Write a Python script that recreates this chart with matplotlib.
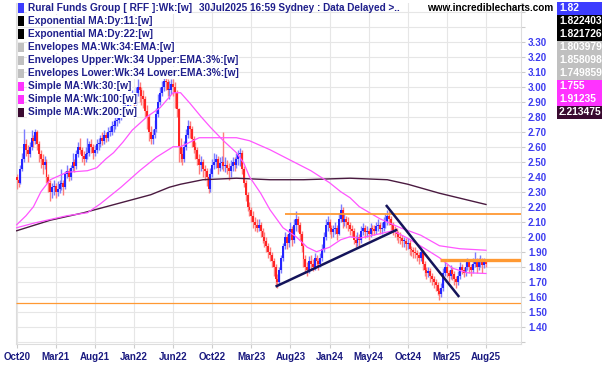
import matplotlib
matplotlib.use('Agg')
import matplotlib.pyplot as plt
from matplotlib.patches import Rectangle

W, H = 602, 365

# weekly candles, index 0 = first week of Oct 2020
first_open = 2.40
closes = [2.38, 2.36, 2.45, 2.52, 2.62, 2.58, 2.55, 2.60, 2.66, 2.64,
          2.70, 2.62, 2.55, 2.52, 2.48, 2.50, 2.40, 2.36, 2.30, 2.33,
          2.34, 2.30, 2.32, 2.35, 2.36, 2.33, 2.42, 2.44, 2.40, 2.46,
          2.50, 2.47, 2.55, 2.60, 2.58, 2.54, 2.52, 2.55, 2.56, 2.62,
          2.60, 2.56, 2.58, 2.62, 2.62, 2.66, 2.64, 2.68, 2.66, 2.70,
          2.70, 2.74, 2.74, 2.77, 2.78, 2.80, 2.82, 2.85, 2.86, 2.84,
          2.90, 2.92, 2.94, 2.90, 2.96, 3.00, 2.98, 2.94, 2.92, 2.84,
          2.80, 2.70, 2.65, 2.68, 2.72, 2.82, 2.90, 2.96, 3.00, 3.04,
          3.03, 2.98, 2.98, 3.02, 3.00, 2.96, 2.85, 2.60, 2.55, 2.52,
          2.60, 2.68, 2.74, 2.72, 2.65, 2.60, 2.58, 2.52, 2.48, 2.50,
          2.45, 2.44, 2.40, 2.32, 2.42, 2.48, 2.50, 2.52, 2.46, 2.49,
          2.50, 2.47, 2.48, 2.46, 2.44, 2.47, 2.50, 2.48, 2.52, 2.55,
          2.56, 2.45, 2.36, 2.28, 2.20, 2.18, 2.14, 2.10, 2.08, 2.06,
          2.08, 2.04, 2.00, 1.97, 1.94, 1.90, 1.88, 1.84, 1.80, 1.72,
          1.70, 1.78, 1.86, 1.94, 2.00, 1.96, 2.02, 2.05, 1.98, 2.08,
          2.12, 2.08, 2.02, 1.94, 1.85, 1.80, 1.78, 1.84, 1.82, 1.80,
          1.86, 1.84, 1.82, 1.86, 1.92, 2.00, 2.08, 2.10, 2.06, 2.03,
          2.05, 2.06, 2.02, 2.12, 2.18, 2.10, 2.12, 2.10, 2.08, 2.05,
          2.04, 1.98, 1.96, 2.00, 1.98, 2.04, 2.06, 2.03, 2.04, 2.02,
          2.06, 2.05, 2.04, 2.07, 2.08, 2.05, 2.06, 2.10, 2.10, 2.14,
          2.12, 2.08, 2.04, 2.03, 2.02, 2.00, 1.99, 1.97, 1.97, 1.95,
          1.96, 1.92, 1.91, 1.90, 1.89, 1.88, 1.86, 1.90, 1.82, 1.78,
          1.76, 1.77, 1.74, 1.72, 1.70, 1.68, 1.64, 1.62, 1.66, 1.76,
          1.80, 1.76, 1.74, 1.78, 1.75, 1.72, 1.70, 1.74, 1.80, 1.78,
          1.76, 1.80, 1.84, 1.80, 1.78, 1.82, 1.84, 1.80, 1.83, 1.85,
          1.81, 1.84, 1.82]
highs = [2.42, 2.40, 2.48, 2.56, 2.72, 2.65, 2.61, 2.63, 2.71, 2.68,
         2.72, 2.71, 2.64, 2.58, 2.55, 2.54, 2.52, 2.42, 2.38, 2.36,
         2.38, 2.36, 2.37, 2.38, 2.45, 2.38, 2.44, 2.48, 2.46, 2.48,
         2.56, 2.52, 2.58, 2.63, 2.66, 2.60, 2.57, 2.60, 2.66, 2.64,
         2.65, 2.62, 2.61, 2.65, 2.66, 2.68, 2.70, 2.71, 2.70, 2.73,
         2.74, 2.77, 2.78, 2.80, 2.81, 2.84, 2.85, 2.88, 2.90, 2.89,
         2.93, 2.95, 2.98, 2.96, 3.00, 3.05, 3.03, 3.00, 2.98, 2.94,
         2.88, 2.82, 2.74, 2.72, 2.78, 2.86, 2.95, 3.00, 3.04, 3.06,
         3.06, 3.05, 3.04, 3.05, 3.05, 3.03, 2.98, 2.86, 2.66, 2.60,
         2.64, 2.72, 2.78, 2.77, 2.74, 2.67, 2.63, 2.60, 2.55, 2.54,
         2.52, 2.48, 2.46, 2.42, 2.46, 2.52, 2.56, 2.55, 2.54, 2.53,
         2.54, 2.70, 2.53, 2.51, 2.49, 2.51, 2.53, 2.53, 2.56, 2.58,
         2.59, 2.58, 2.47, 2.38, 2.30, 2.23, 2.20, 2.17, 2.13, 2.12,
         2.12, 2.10, 2.06, 2.03, 2.00, 1.96, 1.93, 1.90, 1.86, 1.82,
         1.75, 1.80, 1.88, 1.96, 2.03, 2.02, 2.05, 2.10, 2.07, 2.12,
         2.17, 2.14, 2.10, 2.04, 1.96, 1.88, 1.83, 1.87, 1.88, 1.85,
         1.89, 1.88, 1.86, 1.89, 1.95, 2.03, 2.12, 2.14, 2.12, 2.08,
         2.08, 2.10, 2.08, 2.16, 2.22, 2.20, 2.16, 2.14, 2.13, 2.10,
         2.08, 2.06, 2.01, 2.03, 2.02, 2.07, 2.09, 2.08, 2.07, 2.06,
         2.09, 2.08, 2.08, 2.10, 2.12, 2.10, 2.10, 2.13, 2.15, 2.18,
         2.17, 2.14, 2.10, 2.07, 2.06, 2.04, 2.03, 2.01, 2.00, 1.99,
         1.99, 1.98, 1.94, 1.93, 1.93, 1.91, 1.90, 1.93, 1.91, 1.84,
         1.80, 1.80, 1.79, 1.76, 1.74, 1.72, 1.70, 1.66, 1.69, 1.79,
         1.83, 1.82, 1.78, 1.81, 1.80, 1.77, 1.74, 1.77, 1.83, 1.82,
         1.80, 1.83, 1.86, 1.85, 1.82, 1.86, 1.90, 1.86, 1.86, 1.88,
         1.86, 1.86, 1.85]
lows = [2.32, 2.33, 2.35, 2.44, 2.50, 2.54, 2.50, 2.53, 2.58, 2.60,
        2.62, 2.58, 2.50, 2.46, 2.42, 2.45, 2.36, 2.30, 2.24, 2.26,
        2.28, 2.26, 2.27, 2.29, 2.31, 2.28, 2.32, 2.39, 2.37, 2.38,
        2.44, 2.43, 2.45, 2.53, 2.55, 2.50, 2.48, 2.50, 2.52, 2.54,
        2.56, 2.52, 2.54, 2.56, 2.58, 2.60, 2.61, 2.62, 2.63, 2.64,
        2.67, 2.68, 2.70, 2.72, 2.74, 2.76, 2.78, 2.80, 2.82, 2.80,
        2.82, 2.87, 2.89, 2.86, 2.88, 2.94, 2.90, 2.88, 2.86, 2.80,
        2.72, 2.64, 2.62, 2.62, 2.66, 2.70, 2.80, 2.88, 2.94, 2.97,
        2.98, 2.94, 2.92, 2.95, 2.94, 2.86, 2.80, 2.50, 2.50, 2.48,
        2.50, 2.58, 2.66, 2.66, 2.60, 2.56, 2.52, 2.48, 2.42, 2.44,
        2.40, 2.38, 2.34, 2.29, 2.30, 2.40, 2.45, 2.46, 2.42, 2.44,
        2.45, 2.44, 2.43, 2.42, 2.38, 2.40, 2.44, 2.44, 2.46, 2.48,
        2.47, 2.42, 2.33, 2.24, 2.17, 2.14, 2.10, 2.06, 2.04, 2.03,
        2.04, 2.00, 1.96, 1.93, 1.90, 1.86, 1.84, 1.80, 1.74, 1.68,
        1.66, 1.68, 1.76, 1.84, 1.92, 1.92, 1.93, 1.98, 1.94, 1.96,
        2.04, 2.03, 1.98, 1.90, 1.80, 1.76, 1.74, 1.76, 1.78, 1.77,
        1.78, 1.80, 1.78, 1.80, 1.84, 1.90, 1.98, 2.04, 2.02, 1.99,
        2.00, 2.02, 1.98, 2.01, 2.10, 2.06, 2.07, 2.06, 2.04, 2.01,
        2.00, 1.95, 1.93, 1.94, 1.94, 1.96, 2.01, 1.99, 2.00, 1.98,
        2.00, 2.01, 2.01, 2.02, 2.04, 2.02, 2.02, 2.04, 2.06, 2.08,
        2.08, 2.04, 2.01, 2.00, 1.98, 1.96, 1.95, 1.93, 1.93, 1.91,
        1.92, 1.88, 1.87, 1.86, 1.86, 1.84, 1.82, 1.84, 1.78, 1.74,
        1.72, 1.73, 1.70, 1.68, 1.66, 1.64, 1.61, 1.58, 1.60, 1.64,
        1.74, 1.73, 1.70, 1.72, 1.71, 1.68, 1.66, 1.68, 1.72, 1.75,
        1.73, 1.74, 1.78, 1.76, 1.74, 1.76, 1.80, 1.76, 1.78, 1.80,
        1.76, 1.79, 1.80]
opens = [first_open] + closes[:-1]

tick_pos = [0, 21, 42, 63, 84, 105, 126, 147, 168, 189, 210, 231, 252]
tick_labels = ['Oct20', 'Mar21', 'Aug21', 'Jan22', 'Jun22', 'Oct22', 'Mar23',
               'Aug23', 'Jan24', 'May24', 'Oct24', 'Mar25', 'Aug25']

# moving averages (week index, price)
sma30_x = [0, 5, 9, 13, 18, 27, 38, 43, 48, 52, 57, 62, 70, 77, 84, 88, 93, 99,
           104, 111, 118, 122, 125, 131, 136, 143, 150, 156, 161, 168, 174, 179,
           184, 195, 202, 210, 218, 227, 234, 242, 252]
sma30_y = [2.08, 2.14, 2.20, 2.30, 2.38, 2.43, 2.44, 2.46, 2.52, 2.56, 2.63, 2.71,
           2.80, 2.86, 2.96, 2.96, 2.89, 2.80, 2.73, 2.64, 2.56, 2.49, 2.40, 2.29,
           2.18, 2.06, 2.00, 1.93, 1.90, 1.93, 1.98, 2.00, 1.99, 2.02, 2.04, 1.99,
           1.93, 1.86, 1.79, 1.76, 1.755]
sma100_x = [0, 9, 27, 38, 45, 56, 66, 75, 84, 88, 98, 118, 125, 136, 147, 158,
            168, 174, 179, 184, 195, 206, 217, 227, 238, 252]
sma100_y = [2.06, 2.09, 2.14, 2.16, 2.22, 2.33, 2.44, 2.53, 2.60, 2.60, 2.66, 2.66,
            2.64, 2.58, 2.51, 2.44, 2.36, 2.30, 2.26, 2.20, 2.12, 2.06, 2.01, 1.94,
            1.92, 1.91]
sma200_x = [0, 18, 36, 54, 72, 82, 88, 100, 118, 136, 154, 179, 199, 210, 227, 252]
sma200_y = [2.04, 2.11, 2.16, 2.22, 2.28, 2.33, 2.35, 2.38, 2.39, 2.38, 2.38, 2.39,
            2.38, 2.35, 2.29, 2.215]

# drawn lines
hlines = [(2.15, 144), (1.845, 227.3), (1.555, -1)]
trend1 = ([139.6, 203.7], [1.671, 2.044])
trend2 = ([198.7, 237.2], [2.205, 1.605])

legend_names = ['Rural Funds Group [ RFF ]:Wk:[w]', 'Exponential MA:Dy:11:[w]',
                'Exponential MA:Dy:22:[w]', 'Envelopes MA:Wk:34:EMA:[w]',
                'Envelopes Upper:Wk:34 Upper:EMA:3%:[w]',
                'Envelopes Lower:Wk:34 Lower:EMA:3%:[w]', 'Simple MA:Wk:30:[w]',
                'Simple MA:Wk:100:[w]', 'Simple MA:Wk:200:[w]']
legend_colors = ['#3c3cff', '#000000', '#000000', '#c0c0c0', '#c0c0c0', '#c0c0c0',
                 '#ff33ff', '#ff33ff', '#3a0a30']
value_labels = ['1.82', '1.822403', '1.821726', '1.803979', '1.858098', '1.749859',
                '1.755', '1.91235', '2.213475']

plt.rcParams['font.family'] = ['Liberation Sans', 'DejaVu Sans']
fig = plt.figure(figsize=(W / 100, H / 100), dpi=100)
ax = fig.add_axes([15.5 / W, 1 - 344 / H, (521 - 15.5) / W, (344 - 3) / H])

up_body, up_wick = '#2424ff', '#7c7cff'
dn_body, dn_wick = '#ff2424', '#ff7c7c'
for i in range(len(closes)):
    o, c = opens[i], closes[i]
    up = c >= o
    ax.vlines(i, lows[i], highs[i], color=up_wick if up else dn_wick, lw=1.0, zorder=2)
    h = c - o if abs(c - o) > 0.005 else 0.005
    ax.bar(i, h, bottom=o, width=1.05, color=up_body if up else dn_body, lw=0, zorder=3)

ax.plot(sma200_x, sma200_y, color='#4a1a40', lw=1.0, zorder=4)
ax.plot(sma100_x, sma100_y, color='#ff55ff', lw=0.9, zorder=4)
ax.plot(sma30_x, sma30_y, color='#ff55ff', lw=0.9, zorder=4)

xmin, xmax = -0.64, 270.8
for y, x0 in hlines:
    lw = 2.4 if y == 1.845 else (1.3 if y == 2.15 else 0.9)
    ax.plot([max(x0, xmin), xmax], [y, y], color='#ff9933', lw=lw, zorder=5,
            solid_capstyle='butt')
ax.plot(*trend1, color='#14145a', lw=1.8, zorder=6)
ax.plot(*trend2, color='#14145a', lw=1.8, zorder=6)

ax.set_xlim(xmin, xmax)
ax.set_ylim(1.285, 3.558)
ax.set_xticks(tick_pos)
ax.set_xticklabels(tick_labels)
yt = [round(1.3 + 0.1 * k, 2) for k in range(23)]
ax.set_yticks(yt)
ax.set_yticklabels(['%.2f' % v if 1.35 < v < 3.35 else '' for v in yt])
ax.yaxis.tick_right()
ax.grid(True, color='#e6e6e6', lw=0.8, zorder=0)
ax.set_axisbelow(True)
ax.spines['top'].set_visible(False)
for s in ['left', 'right', 'bottom']:
    ax.spines[s].set_color('#dddddd')
ax.tick_params(axis='x', colors='#cccccc', length=3, pad=3, labelsize=7,
               labelcolor='#1a1a80')
ax.tick_params(axis='y', colors='#cccccc', length=3, pad=2, labelsize=7,
               labelcolor='#3c3cf0')
for lab in ax.get_xticklabels() + ax.get_yticklabels():
    lab.set_fontweight('bold')

# legend rows and value boxes
for k, (name, col) in enumerate(zip(legend_names, legend_colors)):
    yc = 8 + 13 * k
    fig.add_artist(Rectangle((18 / W, 1 - (yc + 4.5) / H), 6 / W, 9 / H,
                             transform=fig.transFigure, color=col, lw=0))
    fig.text(27.5 / W, 1 - yc / H, name, fontsize=7.3, fontweight='bold',
             color='#1f1f8c', va='center', ha='left',
             bbox=dict(facecolor='white', edgecolor='none', pad=0.6))
    fig.add_artist(Rectangle((557 / W, 1 - (yc + 6.5) / H), 45 / W, 13 / H,
                             transform=fig.transFigure, color=col, lw=0))
    fig.text(559 / W, 1 - yc / H, value_labels[k], fontsize=7.4, fontweight='bold',
             color='white', va='center', ha='left')

fig.text(199 / W, 1 - 8 / H, '30Jul2025 16:59 Sydney : Data Delayed >..', fontsize=7.2,
         fontweight='bold', color='#1f1f8c', va='center', ha='left')
fig.text(553 / W, 1 - 8 / H, 'www.incrediblecharts.com', fontsize=7.2,
         fontweight='bold', color='black', va='center', ha='right')

fig.savefig('out.png', dpi=100)
